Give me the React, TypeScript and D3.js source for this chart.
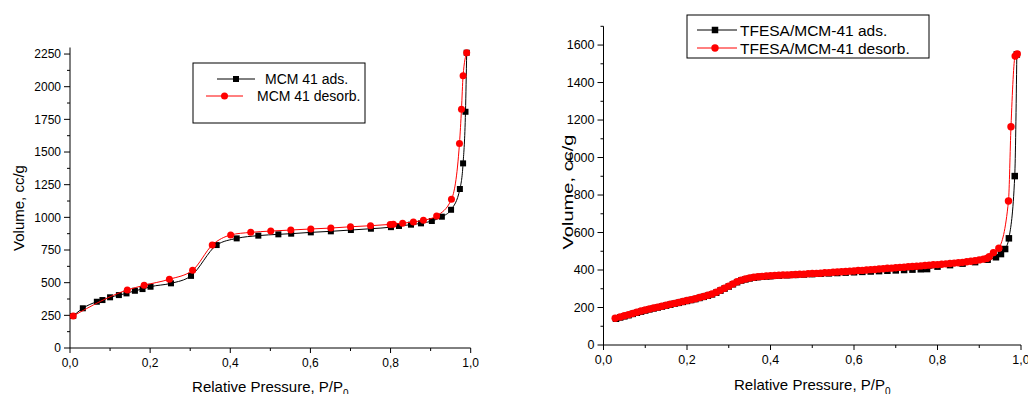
import React from 'react';
import * as d3 from 'd3';

// MCM 41 (left panel)
const mcmAdsP = [0.008, 0.032, 0.067, 0.081, 0.1, 0.122, 0.141, 0.162, 0.181, 0.201, 0.252, 0.302, 0.366, 0.416, 0.47, 0.52, 0.552, 0.601, 0.651, 0.701, 0.751, 0.801, 0.821, 0.851, 0.876, 0.903, 0.928, 0.951, 0.973, 0.981, 0.987, 0.99];
const mcmAdsV = [245, 304, 354, 367, 388, 405, 418, 438, 451, 469, 495, 552, 788, 839, 860, 870, 875, 885, 893, 903, 913, 925, 934, 944, 954, 972, 1005, 1058, 1217, 1413, 1808, 2260];
const mcmDesP = [0.008, 0.143, 0.185, 0.248, 0.306, 0.355, 0.401, 0.451, 0.501, 0.551, 0.601, 0.651, 0.7, 0.75, 0.799, 0.807, 0.83, 0.857, 0.882, 0.915, 0.952, 0.972, 0.977, 0.981, 0.99];
const mcmDesV = [245, 444, 480, 526, 595, 788, 865, 885, 895, 903, 911, 918, 928, 936, 946, 948, 955, 965, 977, 1011, 1138, 1566, 1827, 2084, 2260];

// TFESA/MCM-41 (right panel)
const tfAdsP = [0.03, 0.04, 0.05, 0.06, 0.07, 0.08, 0.09, 0.1, 0.11, 0.12, 0.13, 0.14, 0.15, 0.16, 0.17, 0.18, 0.19, 0.2, 0.21, 0.22, 0.23, 0.24, 0.25, 0.26, 0.27, 0.28, 0.29, 0.3, 0.31, 0.32, 0.33, 0.34, 0.35, 0.36, 0.37, 0.38, 0.39, 0.4, 0.42, 0.44, 0.46, 0.48, 0.5, 0.52, 0.54, 0.56, 0.58, 0.6, 0.62, 0.64, 0.66, 0.68, 0.7, 0.72, 0.74, 0.76, 0.775, 0.8, 0.83, 0.86, 0.89, 0.92, 0.94, 0.952, 0.962, 0.971, 0.985, 0.99];
const tfAdsV = [140, 147, 153, 159, 166, 172, 178, 184, 190, 195, 200, 205, 210, 215, 220, 225, 230, 235, 240, 245, 251, 257, 263, 270, 279, 290, 301, 312, 324, 335, 344, 350, 355, 359, 362, 364, 366, 367, 370, 372, 374, 376, 378, 380, 382, 384, 386, 388, 390, 392, 394, 396, 398, 400, 402, 404, 405, 418, 426, 434, 442, 455, 468, 485, 512, 569, 901, 1550];
const tfDesP = [0.028, 0.04, 0.05, 0.06, 0.07, 0.08, 0.09, 0.1, 0.11, 0.12, 0.13, 0.14, 0.15, 0.16, 0.17, 0.18, 0.19, 0.2, 0.21, 0.22, 0.23, 0.24, 0.25, 0.26, 0.27, 0.28, 0.29, 0.3, 0.31, 0.32, 0.33, 0.34, 0.35, 0.36, 0.37, 0.38, 0.39, 0.4, 0.41, 0.42, 0.43, 0.44, 0.45, 0.46, 0.47, 0.48, 0.49, 0.5, 0.51, 0.52, 0.53, 0.54, 0.55, 0.56, 0.57, 0.58, 0.59, 0.6, 0.61, 0.62, 0.63, 0.64, 0.65, 0.66, 0.67, 0.68, 0.69, 0.7, 0.71, 0.72, 0.73, 0.74, 0.75, 0.76, 0.77, 0.78, 0.79, 0.8, 0.81, 0.82, 0.83, 0.84, 0.85, 0.86, 0.87, 0.88, 0.89, 0.9, 0.91, 0.918, 0.924, 0.934, 0.947, 0.97, 0.976, 0.986, 0.991];
const tfDesV = [143, 150, 156, 162, 168, 175, 181, 187, 192, 197, 202, 207, 212, 217, 222, 227, 232, 237, 242, 247, 253, 259, 265, 272, 281, 292, 303, 314, 326, 337, 346, 352, 357, 361, 364, 366, 368, 369, 371, 372, 373, 374, 375, 376, 377, 378, 380, 381, 382, 383, 385, 386, 388, 389, 391, 392, 394, 395, 397, 398, 400, 402, 403, 405, 407, 409, 410, 412, 414, 415, 417, 419, 420, 422, 424, 426, 428, 429, 431, 433, 435, 437, 439, 441, 444, 447, 450, 454, 458, 462, 471, 492, 516, 768, 1164, 1541, 1552];

const xMajor = [0, 0.2, 0.4, 0.6, 0.8, 1.0];
const xMinor = [0.1, 0.3, 0.5, 0.7, 0.9];
const mcmYMajor = [0, 250, 500, 750, 1000, 1250, 1500, 1750, 2000, 2250];
const tfYMajor = [0, 200, 400, 600, 800, 1000, 1200, 1400, 1600];

const FONT = '"Liberation Sans", Arial, sans-serif';
const fmtX = (v: number) => d3.format('.1f')(v).replace('.', ',');

type Pt = { p: number; v: number };
const zip = (p: number[], v: number[]): Pt[] => p.map((x, i) => ({ p: x, v: v[i] }));

interface Legend {
  box: [number, number, number, number];
  rows: { y: number; x1: number; x2: number; mx: number; tx: number; label: string }[];
  size: number;
}

interface PanelProps {
  left: number;
  right: number;
  bottom: number;
  top: number;
  yMax: number;
  yMajor: number[];
  yMinorStep: number;
  ads: Pt[];
  des: Pt[];
  tickSize: number;
  titleX: { y: number };
  titleY: { x: number; y: number; len?: number };
  legend: Legend;
  sq: number;
  r: number;
}

const Panel: React.FC<PanelProps> = (props) => {
  const { left, right, bottom, top, yMax, yMajor, yMinorStep, ads, des, tickSize, legend, sq, r } = props;
  const x = d3.scaleLinear().domain([0, 1]).range([left, right]);
  const y = d3.scaleLinear().domain([0, yMax]).range([bottom, top]);
  const line = d3.line<Pt>().x(d => x(d.p)).y(d => y(d.v)).curve(d3.curveMonotoneX);
  const yMinor = d3.range(yMinorStep, yMax + 1, yMinorStep * 2);
  const cx = (left + right) / 2;

  return (
    <g fontFamily={FONT}>
      {/* axes */}
      <line x1={left} y1={bottom} x2={left} y2={top} stroke="#000" />
      <line x1={left} y1={bottom} x2={right} y2={bottom} stroke="#000" />
      {xMajor.map(t => (
        <g key={'xM' + t}>
          <line x1={x(t)} x2={x(t)} y1={bottom} y2={bottom + 5} stroke="#000" />
          <text x={x(t)} y={bottom + 19} fontSize={tickSize} textAnchor="middle">{fmtX(t)}</text>
        </g>
      ))}
      {xMinor.map(t => (
        <line key={'xm' + t} x1={x(t)} x2={x(t)} y1={bottom} y2={bottom + 3} stroke="#000" />
      ))}
      {yMajor.map(t => (
        <g key={'yM' + t}>
          <line x1={left - 6} x2={left} y1={y(t)} y2={y(t)} stroke="#000" />
          <text x={left - 9} y={y(t)} dy="0.35em" fontSize={tickSize} textAnchor="end">{t}</text>
        </g>
      ))}
      {yMinor.map(t => (
        <line key={'ym' + t} x1={left - 3} x2={left} y1={y(t)} y2={y(t)} stroke="#000" />
      ))}

      {/* titles */}
      <text x={cx} y={props.titleX.y} fontSize={15} textAnchor="middle">
        Relative Pressure, P/P<tspan fontSize={10} dy={5}>0</tspan>
      </text>
      <text
        transform={`translate(${props.titleY.x},${props.titleY.y}) rotate(-90)`}
        fontSize={15}
        textAnchor="middle"
        textLength={props.titleY.len}
        lengthAdjust={props.titleY.len ? 'spacingAndGlyphs' : undefined}
      >
        Volume, cc/g
      </text>

      {/* adsorption */}
      <path d={line(ads) || ''} fill="none" stroke="#000" strokeWidth={1} />
      {ads.map((d, i) => (
        <rect key={'a' + i} x={x(d.p) - sq / 2} y={y(d.v) - sq / 2} width={sq} height={sq} fill="#000" />
      ))}
      {/* desorption */}
      <path d={line(des) || ''} fill="none" stroke="#ff0000" strokeWidth={1} />
      {des.map((d, i) => (
        <circle key={'d' + i} cx={x(d.p)} cy={y(d.v)} r={r} fill="#ff0000" />
      ))}

      {/* legend */}
      <rect
        x={legend.box[0]}
        y={legend.box[1]}
        width={legend.box[2] - legend.box[0]}
        height={legend.box[3] - legend.box[1]}
        fill="#fff"
        stroke="#000"
      />
      {legend.rows.map((row, i) => (
        <g key={'l' + i}>
          <line x1={row.x1} x2={row.x2} y1={row.y} y2={row.y} stroke={i === 0 ? '#000' : '#ff0000'} />
          {i === 0 ? (
            <rect x={row.mx - sq / 2} y={row.y - sq / 2} width={sq} height={sq} fill="#000" />
          ) : (
            <circle cx={row.mx} cy={row.y} r={r} fill="#ff0000" />
          )}
          <text x={row.tx} y={row.y} dy="0.36em" fontSize={legend.size}>{row.label}</text>
        </g>
      ))}
    </g>
  );
};

export default function App() {
  return (
    <svg width={1028} height={394} style={{ position: 'absolute', left: 0, top: 0, background: '#fff' }}>
      <rect width={1028} height={394} fill="#fff" />
      <Panel
        left={70}
        right={470.7}
        bottom={348}
        top={47.5}
        yMax={2300}
        yMajor={mcmYMajor}
        yMinorStep={125}
        ads={zip(mcmAdsP, mcmAdsV)}
        des={zip(mcmDesP, mcmDesV)}
        tickSize={12}
        titleX={{ y: 392 }}
        titleY={{ x: 24, y: 208 }}
        sq={6}
        r={3.5}
        legend={{
          box: [193, 63, 365, 123],
          size: 14,
          rows: [
            { y: 79, x1: 217, x2: 255, mx: 236, tx: 265, label: 'MCM 41 ads.' },
            { y: 96, x1: 206, x2: 243, mx: 224.5, tx: 257, label: 'MCM 41 desorb.' },
          ],
        }}
      />
      <Panel
        left={603.5}
        right={1021}
        bottom={345}
        top={26.3}
        yMax={1700}
        yMajor={tfYMajor}
        yMinorStep={100}
        ads={zip(tfAdsP, tfAdsV)}
        des={zip(tfDesP, tfDesV)}
        tickSize={12.5}
        titleX={{ y: 390 }}
        titleY={{ x: 573, y: 192, len: 115 }}
        sq={6.5}
        r={3.7}
        legend={{
          box: [687, 15, 929, 58],
          size: 15.5,
          rows: [
            { y: 30, x1: 697, x2: 737, mx: 715, tx: 740, label: 'TFESA/MCM-41 ads.' },
            { y: 48, x1: 697, x2: 737, mx: 715, tx: 740, label: 'TFESA/MCM-41 desorb.' },
          ],
        }}
      />
    </svg>
  );
}
